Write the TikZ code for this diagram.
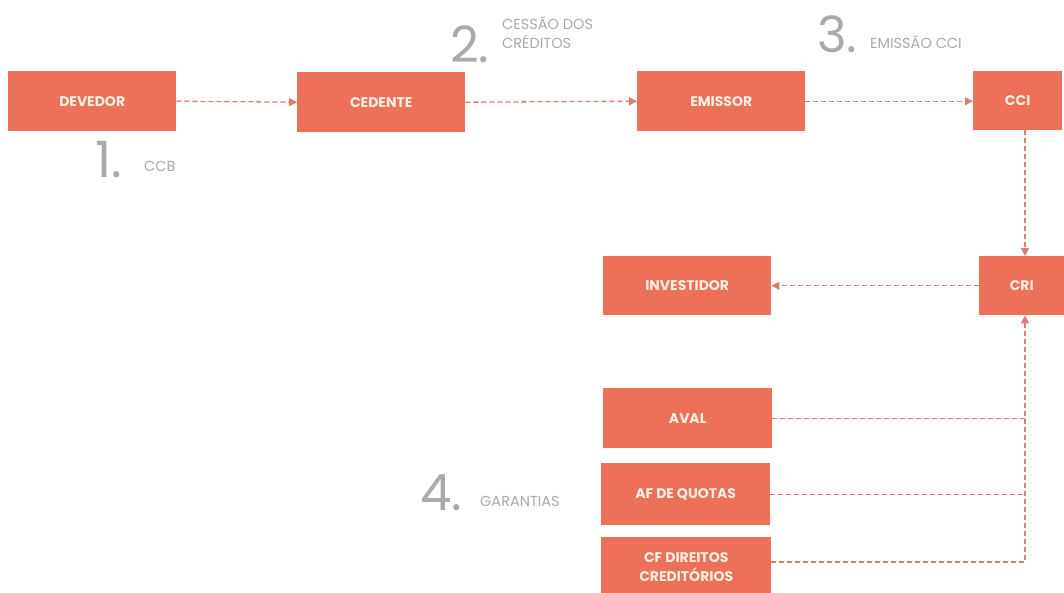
\documentclass[tikz,border=0pt]{standalone}
\usepackage{fontspec}
\setmainfont{Poppins}
\usetikzlibrary{arrows.meta}
\definecolor{boxfill}{RGB}{237,112,88}
\definecolor{boxtext}{RGB}{252,240,230}
\definecolor{linec}{RGB}{214,128,112}
\definecolor{labgray}{RGB}{170,170,170}
\begin{document}
\begin{tikzpicture}[x=1pt,y=-1pt,
  box/.style={fill=boxfill, draw=none, anchor=north west, inner sep=0pt,
    text=boxtext, font=\fontsize{14}{19}\selectfont\bfseries, align=center},
  conn/.style={draw=linec, line width=1.3pt, dash pattern=on 5pt off 3pt},
  arr/.style={conn, -{Triangle[length=8pt,width=8pt,fill=linec]}},
  num/.style={text=labgray, font=\fontsize{50}{50}\selectfont, inner sep=0pt, anchor=base west},
  lab/.style={text=labgray, font=\fontsize{14.5}{19}\selectfont, inner sep=0pt, anchor=base west, align=left}]
\useasboundingbox (0,0) rectangle (1064,592);
\clip (0,0) rectangle (1064,592);
\fill[white] (0,0) rectangle (1064,592);

\node[box, minimum width=168pt, minimum height=60pt] (dev) at (8,71) {DEVEDOR};
\node[box, minimum width=168pt, minimum height=60pt] (ced) at (297,72) {CEDENTE};
\node[box, minimum width=168pt, minimum height=60pt] (emi) at (637,71) {EMISSOR};
\node[box, minimum width=89pt, minimum height=59pt] (cci) at (973,71) {CCI};
\node[box, minimum width=85pt, minimum height=59pt] (cri) at (979,256) {CRI};
\node[box, minimum width=168pt, minimum height=59pt] (inv) at (603,256) {INVESTIDOR};
\node[box, minimum width=169pt, minimum height=60pt] (aval) at (603,388) {AVAL};
\node[box, minimum width=169pt, minimum height=62pt] (afq) at (601,463) {AF DE QUOTAS};
\node[box, minimum width=170pt, minimum height=60pt] (cfd) at (601,537) {CF DIREITOS\\CREDITÓRIOS};

\node[num] (n1) at (95,177) {1.};
\node[lab] (l1) at (144,171) {CCB};
\node[num] (n2) at (450,62) {2.};
\node[lab] (l2) at (502,48) {CESSÃO DOS\\CRÉDITOS};
\node[num] (n3) at (817,52) {3.};
\node[lab] (l3) at (870,48) {EMISSÃO CCI};
\node[num] (n4) at (420,510) {4.};
\node[lab] (l4) at (480,506) {GARANTIAS};

\coordinate (vx) at (1025,0);
\draw[arr] (dev.east) -- (ced.west);
\draw[arr] (ced.east) -- (emi.west);
\draw[arr] (emi.east) -- (cci.west |- emi.east);
\draw[arr] (cci.south -| vx) -- (cri.north -| vx);
\draw[arr] (cri.west) -- (inv.east);
\draw[conn] (aval.east) -- (aval.east -| vx);
\draw[conn] (afq.east) -- (afq.east -| vx);
\coordinate (cfy) at (0,562);
\draw[arr] (cfd.east |- cfy) -- (vx |- cfy) -- (cri.south -| vx);
\end{tikzpicture}
\end{document}
